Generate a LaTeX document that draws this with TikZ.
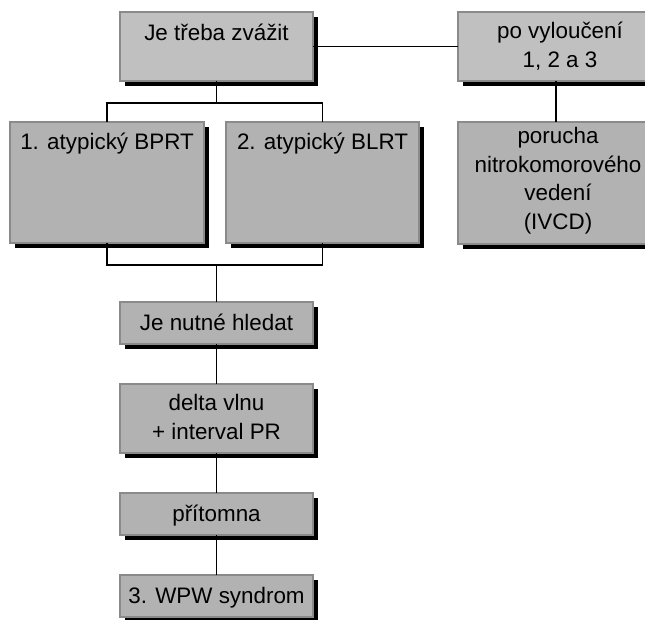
\documentclass[tikz,border=0pt]{standalone}
\usepackage{fontspec}
\setmainfont{Liberation Sans}
\usetikzlibrary{shadows}

\definecolor{lightfill}{HTML}{C0C0C0}
\definecolor{darkfill}{HTML}{B2B2B2}
\definecolor{boxline}{HTML}{8A8A8A}

\tikzset{
  gbox/.style={draw=boxline, line width=1.3pt, fill=darkfill, inner sep=0pt,
    outer sep=0pt, anchor=north west,
    drop shadow={shadow xshift=4.5pt, shadow yshift=-4.5pt, fill=black, opacity=1}},
  lightbox/.style={gbox, fill=lightfill},
  % anchor=base of a multi-line label is the baseline of its last line
  lbl/.style={anchor=base, align=center, inner sep=0pt,
    font=\fontsize{22.4}{28.5}\selectfont},
  conn/.style={draw=black, line width=1.1pt}
}

\begin{document}
\begin{tikzpicture}[x=1pt, y=-1pt]
  \useasboundingbox (0,0) rectangle (645,619);
  \clip (0,0) rectangle (645,619);

  % boxes (top-left corner, size)
  \node[lightbox, minimum width=193pt, minimum height=69pt] (top) at (120,12) {};
  \node[lightbox, minimum width=196pt, minimum height=69pt] (po) at (458,12) {};
  \node[gbox, minimum width=196pt, minimum height=122pt] (por) at (458,122) {};
  \node[gbox, minimum width=194pt, minimum height=121pt] (b1) at (10,122) {};
  \node[gbox, minimum width=193pt, minimum height=121pt] (b2) at (226,122) {};
  \node[gbox, minimum width=193pt, minimum height=42pt] (nut) at (120,302) {};
  \node[gbox, minimum width=193pt, minimum height=69pt] (delta) at (120,384) {};
  \node[gbox, minimum width=193pt, minimum height=42pt] (pri) at (120,493) {};
  \node[gbox, minimum width=193pt, minimum height=42pt] (wpw) at (120,575) {};

  % box texts (positioned by the baseline of the last line)
  \node[lbl] (ttop) at (216.5,40) {Je třeba zvážit};
  \node[lbl] (tpo) at (560,67) {po vyloučení\\1, 2 a 3};
  \node[lbl] (tpor) at (558,229) {porucha\\nitrokomorového\\vedení\\(IVCD)};
  \node[lbl] (tb1) at (107,149) {1. atypický BPRT};
  \node[lbl] (tb2) at (322.5,149) {2. atypický BLRT};
  \node[lbl] (tnut) at (216.5,330) {Je nutné hledat};
  \node[lbl] (tdelta) at (216.5,439) {delta vlnu\\+ interval PR};
  \node[lbl] (tpri) at (216.5,521) {přítomna};
  \node[lbl] (twpw) at (216.5,603) {3. WPW syndrom};

  % junction points of the brackets
  \coordinate (jt) at (216.5,103);
  \coordinate (jb) at (216.5,265);

  % connectors
  \draw[conn] (top.east) -- (po.west);
  \draw[conn] (po.south) -- (por.north);
  \draw[conn] (top.south) -- (jt);
  \draw[conn] (b1.north) -- (b1.north |- jt) -- (b2.north |- jt) -- (b2.north);
  \draw[conn] (b1.south) -- (b1.south |- jb) -- (b2.south |- jb) -- (b2.south);
  \draw[conn] (jb) -- (nut.north);
  \draw[conn] (nut.south) -- (delta.north);
  \draw[conn] (delta.south) -- (pri.north);
  \draw[conn] (pri.south) -- (wpw.north);
\end{tikzpicture}
\end{document}
